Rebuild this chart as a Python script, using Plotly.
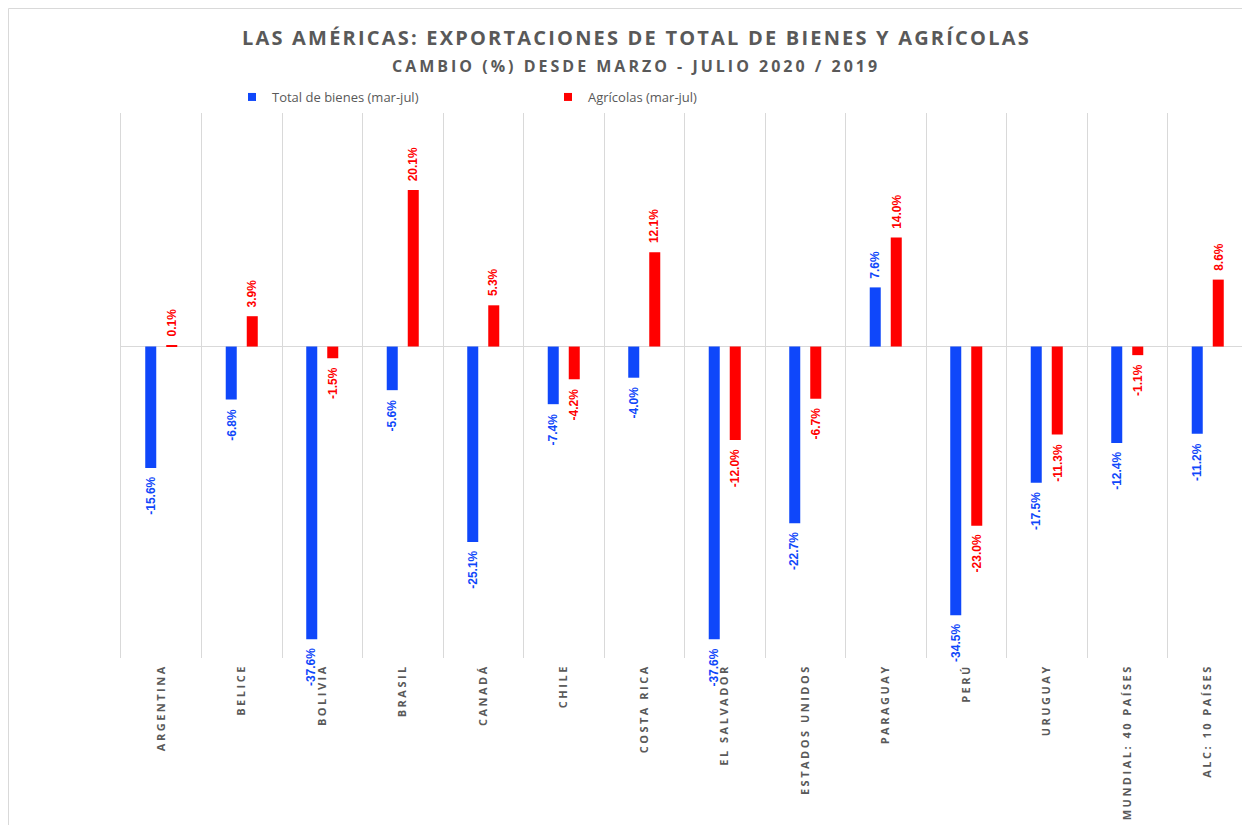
import plotly.graph_objects as go

categories = ["ARGENTINA", "BELICE", "BOLIVIA", "BRASIL", "CANADÁ", "CHILE", "COSTA RICA",
              "EL SALVADOR", "ESTADOS UNIDOS", "PARAGUAY", "PERÚ", "URUGUAY",
              "MUNDIAL: 40 PAÍSES", "ALC: 10 PAÍSES"]
total_bienes = [-15.6, -6.8, -37.6, -5.6, -25.1, -7.4, -4.0, -37.6, -22.7, 7.6, -34.5, -17.5, -12.4, -11.2]
agricolas = [0.1, 3.9, -1.5, 20.1, 5.3, -4.2, 12.1, -12.0, -6.7, 14.0, -23.0, -11.3, -1.1, 8.6]

series_names = ["Total de bienes (mar-jul)", "Agrícolas (mar-jul)"]
title_text = "LAS AMÉRICAS: EXPORTACIONES DE TOTAL DE BIENES Y AGRÍCOLAS"
subtitle_text = "CAMBIO (%) DESDE MARZO - JULIO 2020 / 2019"

BLUE = "#0F47FA"
RED = "#FF0000"
GRAY = "#595959"
GRID = "#D9D9D9"
LABEL_FONT = "Liberation Sans Narrow, Arial Narrow, sans-serif"
MAIN_FONT = "Open Sans, sans-serif"

# figure pixel geometry (page is offset by the 8px body margin)
W, H = 1250, 825
L, T = 113, 105
PR, PB = 1240, 650
R, B = W - PR, H - PB
pw = PR - L
ph = PB - T


def px_x(x):
    return (x - L) / pw


def px_y(y):
    return (PB - y) / ph


def spaced(s, ls):
    return f'<span style="letter-spacing:{ls}px">{s}</span>'


fig = go.Figure()
series = [(series_names[0], total_bienes, BLUE), (series_names[1], agricolas, RED)]
for name, vals, col in series:
    fig.add_trace(go.Bar(name=name, x=categories, y=vals, showlegend=False,
                         marker=dict(color=col, line=dict(width=0))))
# legend entries with small square swatches
for name, vals, col in series:
    fig.add_trace(go.Scatter(name=name, x=[None], y=[None], mode="markers",
                             marker=dict(symbol="square", size=8, color=col)))

annotations = []
for vals, col, xs in [(total_bienes, BLUE, -10.5), (agricolas, RED, 10.5)]:
    for c, v in zip(categories, vals):
        annotations.append(dict(
            x=c, y=v, xref="x", yref="y", text=f"{v:.1f}%", showarrow=False,
            textangle=-90, xshift=xs, yshift=7 if v >= 0 else -7,
            yanchor="bottom" if v >= 0 else "top", xanchor="center",
            font=dict(family=LABEL_FONT, size=12, color=col, weight="bold")))

annotations += [
    dict(text=spaced(title_text, 2.2), xref="paper", yref="paper", x=px_x(628), y=px_y(30),
         xanchor="center", yanchor="middle", showarrow=False,
         font=dict(family=MAIN_FONT, size=20, color=GRAY, weight="bold")),
    dict(text=spaced(subtitle_text, 3.0), xref="paper", yref="paper", x=px_x(628), y=px_y(58),
         xanchor="center", yanchor="middle", showarrow=False,
         font=dict(family=MAIN_FONT, size=16, color=GRAY, weight="bold")),
]

fig.update_layout(
    width=W, height=H,
    margin=dict(l=L, r=R, t=T, b=B, autoexpand=False),
    paper_bgcolor="white", plot_bgcolor="white",
    barmode="group", bargap=0.478, bargroupgap=0.476,
    showlegend=True,
    legend=dict(orientation="h", x=px_x(224), y=px_y(89), yanchor="middle", xanchor="left",
                entrywidth=271, entrywidthmode="pixels", itemwidth=30,
                font=dict(family=MAIN_FONT, size=13, color=GRAY)),
    xaxis=dict(type="category", tickmode="array", tickvals=categories,
               ticktext=[spaced(c, 2.5) for c in categories],
               tickson="boundaries", showgrid=True, gridcolor=GRID, ticklabelstandoff=3,
               gridwidth=1, ticks="", tickangle=-90, showline=False, range=[-0.5, 13.5],
               tickfont=dict(family=MAIN_FONT, size=11, color=GRAY, weight="bold")),
    yaxis=dict(range=[-40, 30], showgrid=False, showticklabels=False, ticks="",
               zeroline=True, zerolinecolor=GRID, zerolinewidth=1,
               showline=True, linecolor=GRID, linewidth=1),
    annotations=annotations,
    shapes=[dict(type="rect", xref="paper", yref="paper", x0=px_x(0.5), x1=px_x(1262),
                 y0=px_y(840), y1=px_y(0.5), line=dict(color=GRID, width=1), layer="below")],
)

fig.write_html("out.html")
